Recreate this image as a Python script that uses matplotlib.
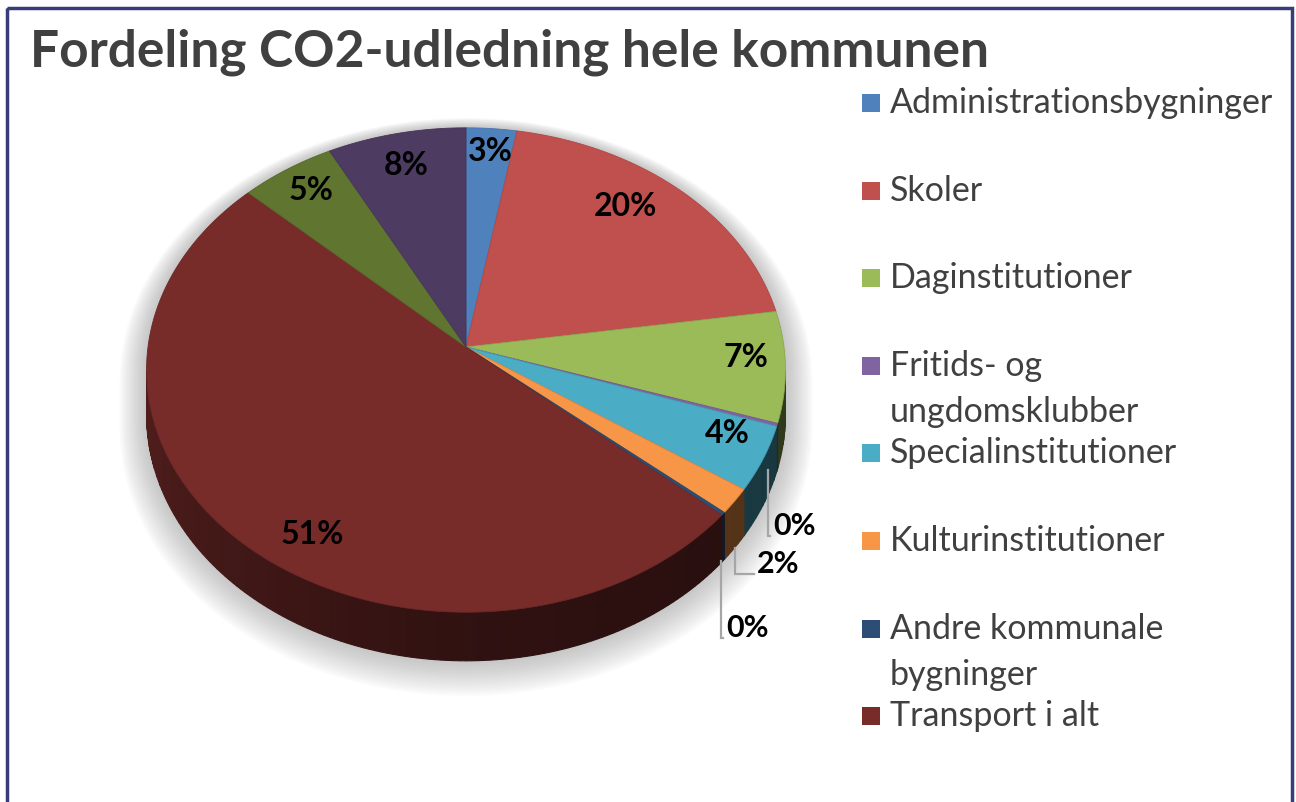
import numpy as np
import matplotlib
matplotlib.use("Agg")
import matplotlib.pyplot as plt
from matplotlib.patches import Polygon, Rectangle

plt.rcParams['font.family'] = ['Lato', 'DejaVu Sans']

title = "Fordeling CO2-udledning hele kommunen"
categories = ["Administrationsbygninger", "Skoler", "Daginstitutioner",
              "Fritids- og\nungdomsklubber", "Specialinstitutioner",
              "Kulturinstitutioner", "Andre kommunale\nbygninger",
              "Transport i alt", "Kategori 9", "Kategori 10"]
shares = [2.8, 19.8, 7.4, 0.2, 4.3, 1.7, 0.2, 50.6, 5.3, 7.7]
colors = ["#4F81BD", "#C0504D", "#9BBB59", "#8064A2", "#4BACC6",
          "#F79646", "#2C4D75", "#772C2A", "#5F7530", "#4D3B62"]
n_legend = 8  # only the first 8 categories are listed in the legend

# label nudges (pixels) for labels inside slices, and text offsets for leader labels
inside_nudge = {0: (2, -7), 1: (-24, -6), 2: (9, -6), 4: (10, -8),
                7: (39, 27), 8: (-1, -4), 9: (0, 2)}
leader_offset = {3: (-4, 56), 5: (22, 16), 6: (3, 67)}

W, H = 1296, 802
CX, CY, RX, RY, P, DEPTH = 466, 347, 318, 240, 0.095, 44


def proj(theta, r=1.0, z=0.0):
    # theta in degrees, clockwise from 12 o'clock; simple perspective tilt
    t = np.radians(theta)
    u = r * np.sin(t)
    v = -r * np.cos(t)
    s = 1.0 / (1.0 - P * v)
    return CX + RX * u * s, CY + (RY * v + z) * s


def darker(c, f):
    rgb = np.array(matplotlib.colors.to_rgb(c))
    return tuple(rgb * f)


fig = plt.figure(figsize=(12.96, 8.02), dpi=100)
ax = fig.add_axes([0, 0, 1, 1])
ax.set_xlim(0, W)
ax.set_ylim(H, 0)
ax.axis('off')

edges = np.concatenate([[0], np.cumsum(shares)]) / np.sum(shares) * 360.0
th_lo = np.degrees(np.arccos(-P))
th_hi = 360.0 - th_lo

# soft shadow around the pie
back = np.linspace(th_hi - 360, th_lo, 200)
front = np.linspace(th_lo, th_hi, 200)
bx, by = proj(back)
fx, fy = proj(front, z=DEPTH)
sx = np.concatenate([bx, fx])
sy = np.concatenate([by, fy])
for k in range(14, 0, -1):
    f = 1 + 0.006 * k
    pts = np.column_stack([CX + (sx - CX) * f, CY + 30 + (sy - CY - 30) * f + 0.8 * k])
    ax.add_patch(Polygon(pts, closed=True, facecolor='#808080', edgecolor='none',
                         alpha=0.035, zorder=1))

# side of the pie
for i, (a0, a1) in enumerate(zip(edges[:-1], edges[1:])):
    lo, hi = max(a0, th_lo), min(a1, th_hi)
    if hi <= lo:
        continue
    steps = np.arange(lo, hi, 1.0)
    steps = np.append(steps, hi)
    for t0, t1 in zip(steps[:-1], steps[1:]):
        tt = np.linspace(t0, t1, 3)
        x0, y0 = proj(tt)
        x1, y1 = proj(tt[::-1], z=DEPTH)
        pts = np.column_stack([np.concatenate([x0, x1]), np.concatenate([y0, y1])])
        shade = np.interp((t0 + t1) / 2, [th_lo, 180, th_hi], [0.30, 0.40, 0.68])
        c = darker(colors[i], shade)
        ax.add_patch(Polygon(pts, closed=True, facecolor=c, edgecolor=c,
                             lw=0.8, zorder=2))

# top face
for i, (a0, a1) in enumerate(zip(edges[:-1], edges[1:])):
    tt = np.linspace(a0, a1, max(2, int((a1 - a0) * 2)))
    x, y = proj(tt)
    pts = np.column_stack([np.concatenate([[CX], x]), np.concatenate([[CY], y])])
    ax.add_patch(Polygon(pts, closed=True, facecolor=colors[i],
                         edgecolor=darker(colors[i], 0.9), lw=0.6, zorder=3))

# data labels
for i, (a0, a1) in enumerate(zip(edges[:-1], edges[1:])):
    mid = (a0 + a1) / 2
    txt = f"{int(round(shares[i]))}%"
    if i in leader_offset:
        axx, ayy = proj(mid, z=DEPTH)
        dx, dy = leader_offset[i]
        tx, ty = axx + dx, ayy + dy
        lx = min(axx, tx - 5)
        ax.plot([lx, lx, tx - 3], [ayy, ty + 10, ty + 10], color='#a6a6a6',
                lw=1.6, zorder=4, solid_joinstyle='miter')
        ax.text(tx, ty, txt, ha='left', va='center', fontsize=22,
                fontweight='bold', color='black', zorder=5)
    else:
        lx, ly = proj(mid, r=0.85)
        dx, dy = inside_nudge.get(i, (0, 0))
        ax.text(lx + dx, ly + dy, txt, ha='center', va='center', fontsize=23,
                fontweight='bold', color='black', zorder=5)

# title
ax.text(30, 52, title, ha='left', va='center', fontsize=37, fontweight='bold',
        color='#404040')

# legend
for i in range(n_legend):
    yc = 103 + i * 87.6
    ax.add_patch(Rectangle((862, yc - 9), 18, 18, facecolor=colors[i],
                           edgecolor='none', zorder=5))
    for j, line in enumerate(categories[i].split("\n")):
        ax.text(890, yc + j * 46, line, ha='left', va='center', fontsize=24.5,
                color='#404040')

# chart border
ax.add_patch(Rectangle((7, 8), 1285, 800, facecolor='none', edgecolor='#383C78',
                       lw=2.5, zorder=6))

fig.savefig("out.png", dpi=100)
